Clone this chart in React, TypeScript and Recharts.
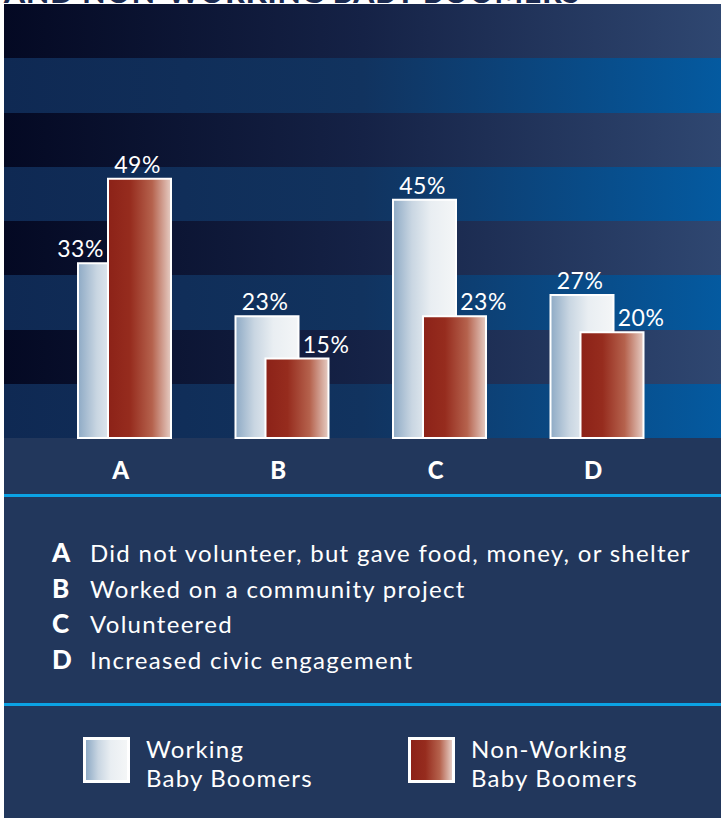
import React from 'react';
import { BarChart, Bar, XAxis, YAxis, CartesianGrid, LabelList, Legend } from 'recharts';

const categories = ['A', 'B', 'C', 'D'];
const workingValues = [33, 23, 45, 27];
const nonWorkingValues = [49, 15, 23, 20];
const categoryDescriptions = [
  'Did not volunteer, but gave food, money, or shelter',
  'Worked on a community project',
  'Volunteered',
  'Increased civic engagement',
];
const seriesKeys = ['working', 'nonWorking'];
const seriesNames = ['Working Baby Boomers', 'Non-Working Baby Boomers'];
const titleText = 'AND NON-WORKING BABY BOOMERS';
const yMax = 82;
const stripeCount = 8;

const data = categories.map((c, i) => ({
  cat: c,
  working: workingValues[i],
  nonWorking: nonWorkingValues[i],
}));
const yTicks = Array.from({ length: stripeCount + 1 }, (_, i) => (i * yMax) / stripeCount);

const FONT = 'Lato, "Open Sans", sans-serif';
const WORKING_CSS = 'linear-gradient(to right, #8eaac5 0%, #c9d6e2 30%, #e9eef2 60%, #f4f6f7 100%)';
const NONWORKING_CSS = 'linear-gradient(to right, #8c2218 0%, #962c1e 35%, #b5624d 70%, #e6cdc4 100%)';

const makeLabel = (key: string, otherKey: string, side: number) => (props: any) => {
  const { x, y, width, index, value } = props;
  const d: any = data[index];
  const shorter = d && d[key] < d[otherKey];
  const shift = shorter ? side * 29 : -2;
  return (
    <text
      x={Number(x) + Number(width) / 2 + shift}
      y={Number(y) - 6}
      textAnchor="middle"
      fill="#ffffff"
      fontSize={23}
      letterSpacing={0.5}
      fontFamily={FONT}
    >
      {value}%
    </text>
  );
};

const CategoryTick = (props: any) => {
  const { x, y, payload } = props;
  return (
    <text x={x - 4} y={y + 41} textAnchor="middle" fill="#ffffff" fontSize={24} fontWeight={900} fontFamily={FONT}>
      {payload.value}
    </text>
  );
};

const LegendContent = (props: any) => {
  const payload: any[] = props.payload || [];
  const swatches = [WORKING_CSS, NONWORKING_CSS];
  const swatchLeft = [79, 404];
  return (
    <div style={{ position: 'relative', width: 717, height: 324, fontFamily: FONT, color: '#ffffff' }}>
      <div style={{ position: 'absolute', left: 0, top: 0, width: 717, height: 3, background: '#0ba2e4' }} />
      {categories.map((c, i) => (
        <div
          key={c}
          style={{
            position: 'absolute',
            left: 48,
            top: 40 + i * 35.7,
            height: 36,
            lineHeight: '36px',
            fontSize: 24,
            whiteSpace: 'nowrap',
          }}
        >
          <span style={{ display: 'inline-block', width: 38, fontWeight: 900, fontSize: 26 }}>{c}</span>
          <span style={{ letterSpacing: 1.3 }}>{categoryDescriptions[i]}</span>
        </div>
      ))}
      <div style={{ position: 'absolute', left: 0, top: 209, width: 717, height: 3, background: '#0ba2e4' }} />
      {seriesKeys.map((key, i) => {
        const item = payload.find((p) => p && p.dataKey === key);
        const label = item ? String(item.value) : seriesNames[i];
        const sp = label.indexOf(' ');
        const line1 = label.slice(0, sp);
        const line2 = label.slice(sp + 1);
        return (
          <React.Fragment key={key}>
            <div
              style={{
                position: 'absolute',
                left: swatchLeft[i],
                top: 243,
                width: 41,
                height: 40,
                border: '3px solid #ffffff',
                background: swatches[i],
              }}
            />
            <div
              style={{
                position: 'absolute',
                left: swatchLeft[i] + 63,
                top: 240,
                fontSize: 24,
                lineHeight: '29px',
                letterSpacing: 1.2,
                whiteSpace: 'nowrap',
              }}
            >
              <div>{line1}</div>
              <div>{line2}</div>
            </div>
          </React.Fragment>
        );
      })}
    </div>
  );
};

export default function App() {
  return (
    <div
      style={{
        position: 'absolute',
        left: 0,
        top: 0,
        width: 721,
        height: 818,
        background: '#ffffff',
        overflow: 'hidden',
      }}
    >
      <div
        style={{
          position: 'absolute',
          left: 4,
          top: -24,
          fontFamily: FONT,
          fontWeight: 900,
          fontSize: 30,
          lineHeight: '30px',
          letterSpacing: 1,
          color: '#1b2a50',
          whiteSpace: 'nowrap',
        }}
      >
        {titleText}
      </div>
      <div style={{ position: 'absolute', left: 4, top: 4, width: 717, height: 814, background: '#22375c' }}>
        <BarChart
          width={717}
          height={814}
          data={data}
          margin={{ top: 0, right: 0, left: 0, bottom: 323 }}
          barGap={-33}
        >
          <defs>
            <linearGradient id="stripeDark" x1="0" y1="0" x2="1" y2="0">
              <stop offset="0%" stopColor="#040923" />
              <stop offset="50%" stopColor="#152246" />
              <stop offset="100%" stopColor="#2f4771" />
            </linearGradient>
            <linearGradient id="stripeBlue" x1="0" y1="0" x2="1" y2="0">
              <stop offset="0%" stopColor="#0f2953" />
              <stop offset="50%" stopColor="#11335f" />
              <stop offset="100%" stopColor="#045aa0" />
            </linearGradient>
            <linearGradient id="barWorking" x1="0" y1="0" x2="1" y2="0">
              <stop offset="0%" stopColor="#8eaac5" />
              <stop offset="30%" stopColor="#c9d6e2" />
              <stop offset="60%" stopColor="#e9eef2" />
              <stop offset="100%" stopColor="#f4f6f7" />
            </linearGradient>
            <linearGradient id="barNonWorking" x1="0" y1="0" x2="1" y2="0">
              <stop offset="0%" stopColor="#8c2218" />
              <stop offset="35%" stopColor="#962c1e" />
              <stop offset="70%" stopColor="#b5624d" />
              <stop offset="100%" stopColor="#e6cdc4" />
            </linearGradient>
          </defs>
          <CartesianGrid
            vertical={false}
            stroke="transparent"
            horizontalFill={['url(#stripeDark)', 'url(#stripeBlue)']}
            fillOpacity={1}
          />
          <XAxis
            dataKey="cat"
            padding={{ left: 42, right: 45 }}
            axisLine={false}
            tickLine={false}
            tickSize={0}
            tickMargin={0}
            height={57}
            tick={<CategoryTick />}
            interval={0}
          />
          <YAxis hide domain={[0, yMax]} ticks={yTicks} type="number" />
          <Legend
            layout="horizontal"
            verticalAlign="middle"
            align="center"
            wrapperStyle={{ left: 0, top: 490, width: 717, height: 324 }}
            content={<LegendContent />}
          />
          <Bar
            dataKey="working"
            name={seriesNames[0]}
            fill="url(#barWorking)"
            stroke="#ffffff"
            strokeWidth={2}
            barSize={63}
            isAnimationActive={false}
          >
            <LabelList dataKey="working" content={makeLabel('working', 'nonWorking', -1)} />
          </Bar>
          <Bar
            dataKey="nonWorking"
            name={seriesNames[1]}
            fill="url(#barNonWorking)"
            stroke="#ffffff"
            strokeWidth={2}
            barSize={63}
            isAnimationActive={false}
          >
            <LabelList dataKey="nonWorking" content={makeLabel('nonWorking', 'working', 1)} />
          </Bar>
        </BarChart>
      </div>
    </div>
  );
}
